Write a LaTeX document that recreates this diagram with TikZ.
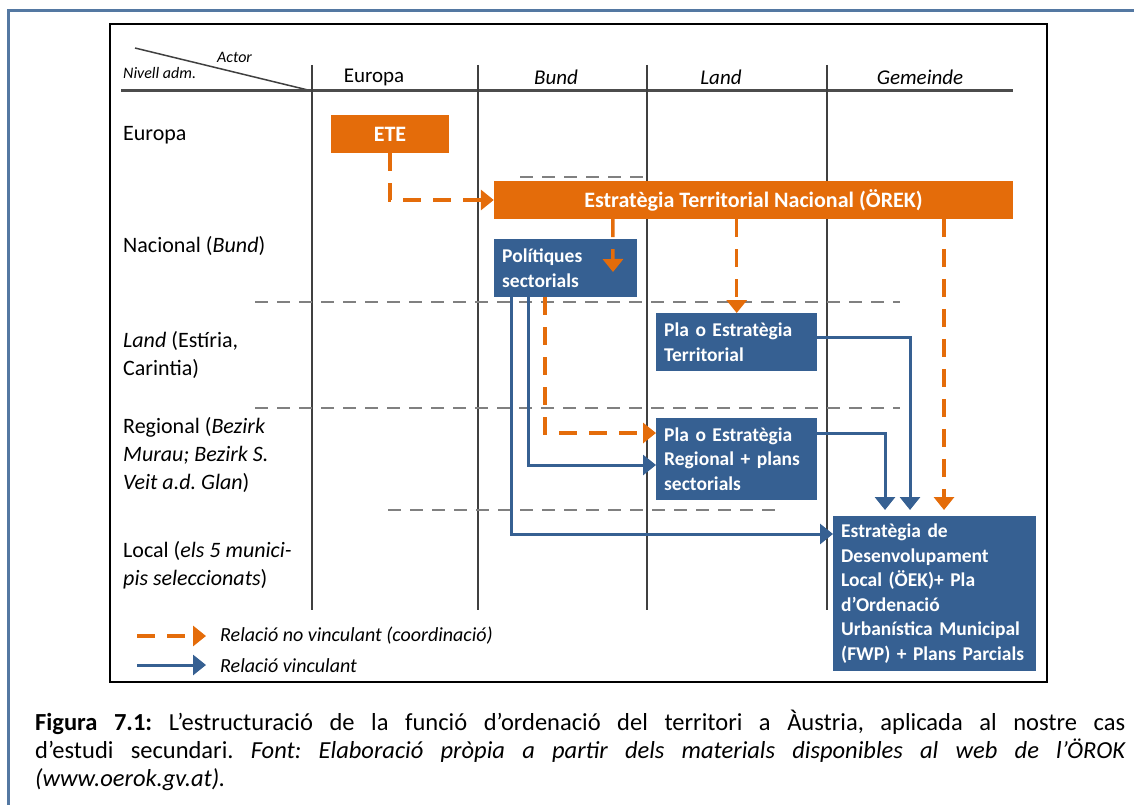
\documentclass[tikz,border=0pt]{standalone}
\usepackage{fontspec}
\setmainfont{Carlito}
\usepackage{tikz}
\usetikzlibrary{arrows.meta,calc}
\definecolor{orng}{RGB}{228,108,10}
\definecolor{blu}{RGB}{54,96,146}
\definecolor{grd}{RGB}{64,64,64}
\frenchspacing
\tikzset{
  orbox/.style={fill=orng,text=white,font=\fontsize{22}{26}\selectfont\bfseries,inner sep=0pt},
  blubox/.style={fill=blu,text=white,font=\fontsize{19.5}{24.5}\selectfont\bfseries,align=left,anchor=north west,inner xsep=8pt,inner ysep=0pt},
  rowlab/.style={anchor=west,align=left,inner sep=0pt,font=\fontsize{22}{28}\selectfont},
  collab/.style={font=\fontsize{21}{25}\selectfont\itshape},
  legtext/.style={anchor=west,inner sep=0pt,font=\fontsize{20}{22}\selectfont\itshape},
  nvinc/.style={orng,line width=3.5pt,dash pattern=on 18pt off 12pt,-{Triangle[length=13pt,width=20pt]}},
  vinc/.style={blu,line width=3pt,-{Triangle[length=13pt,width=20pt]}},
  grdash/.style={gray,line width=1.5pt,dash pattern=on 13pt off 9pt}
}
\begin{document}
\begin{tikzpicture}[x=1pt,y=-1pt]
            \useasboundingbox (0,0) rectangle (1134,805);
            % marc
            \draw[blu!85!white, line width=3pt] (8,805) -- (8,11) -- (1134,11);
            \draw[line width=2.5pt] (110,24) rectangle (1047,682);
            % capçalera
            \draw[grd, line width=1.5pt] (135,48) -- (312,91);
            \draw[gray!60!black, line width=3pt] (121,91) -- (1013,91);
            \node[anchor=west, inner sep=0pt, font=\fontsize{16}{18}\selectfont\itshape] (actor) at (217,57) {Actor};
            \node[anchor=west, inner sep=0pt, font=\fontsize{16}{18}\selectfont\itshape] (nivell) at (123,73) {Nivell adm.};
            \node[collab, font=\fontsize{21}{25}\selectfont] (cEur) at (374,77) {Europa};
            \node[collab] (cBund) at (556,77) {Bund};
            \node[collab] (cLand) at (721,77) {Land};
            \node[collab] (cGem) at (920,77) {Gemeinde};
            % columnes i nivells
            \foreach \x in {312,478,647,827}
                \draw[grd, line width=2pt] (\x,65) -- (\x,610);
            \draw[grdash] (520,177) -- (645,177);
            \draw[grdash] (255,302) -- (900,302);
            \draw[grdash] (255,408) -- (900,408);
            \draw[grdash] (388,510) -- (776,510);
            \node[rowlab] (rEur) at (123,135) {Europa};
            \node[rowlab] (rNac) at (123,246) {Nacional (\textit{Bund})};
            \node[rowlab] (rLand) at (123,355) {\textit{Land} (Estíria,\\Carintia)};
            \node[rowlab] (rReg) at (123,455) {Regional (\textit{Bezirk}\\\textit{Murau; Bezirk S.}\\\textit{Veit a.d. Glan})};
            \node[rowlab] (rLoc) at (123,565) {Local (\textit{els 5 munici-}\\\textit{pis seleccionats})};
            % instruments
            \node[orbox, minimum width=118pt, minimum height=38pt] (ete) at (390,134) {ETE};
            \node[orbox, minimum width=519pt, minimum height=38pt] (orek) at (753.5,200) {Estratègia Territorial Nacional (ÖREK)};
            \node[blubox, minimum width=143pt, minimum height=58pt, text width=127pt] (pol) at (494,239) {Polítiques\\sectorials};
            \node[blubox, minimum width=161pt, minimum height=58pt, text width=145pt] (ter) at (656,313) {Pla o Estratègia\\Territorial};
            \node[blubox, minimum width=161pt, minimum height=82pt, text width=145pt] (reg) at (656,418) {Pla o Estratègia\\Regional + plans\\sectorials};
            \node[blubox, minimum width=203pt, minimum height=155pt, text width=187pt] (loc) at (833,516) {Estratègia de\\Desenvolupament\\Local (ÖEK)+ Pla\\d’Ordenació\\Urbanística Municipal\\(FWP) + Plans Parcials};
            % relacions no vinculants
            \draw[nvinc] (ete.south) |- (orek.west);
            \draw[nvinc] ($(orek.south west)+(119,0)$) -- ($(pol.north west)+(119,33)$);
            \draw[nvinc] (orek.south -| ter.north) -- (ter.north);
            \coordinate (locO) at ($(loc.north west)+(111,-6)$);
            \draw[nvinc] (orek.south -| locO) -- (locO);
            \draw[nvinc] ($(pol.south west)+(51,0)$) |- ($(reg.north west)+(0,15)$);
            % relacions vinculants
            \draw[vinc] ($(pol.south west)+(17,0)$) |- ($(loc.north west)+(0,18)$);
            \draw[vinc] ($(pol.south west)+(34,0)$) |- ($(reg.north west)+(0,47)$);
            \draw[vinc] ($(ter.north east)+(0,24)$) -| ($(loc.north west)+(77,-6)$);
            \draw[vinc] ($(reg.north east)+(0,15)$) -| ($(loc.north west)+(52,-6)$);
            % llegenda
            \coordinate (la) at (137,636);
            \coordinate (lb) at (137,665);
            \node[legtext] (l1) at (220,636) {Relació no vinculant (coordinació)};
            \node[legtext] (l2) at (220,666) {Relació vinculant};
            \draw[nvinc] (la) -- ([xshift=-14pt]l1.west);
            \draw[vinc] (lb) -- ([xshift=-14pt]l2.west |- lb);
            % peu
            \node[anchor=north west, inner sep=0pt, text width=1090pt, align=justify, font=\fontsize{24.5}{28}\selectfont] (cap) at (35,710)
                {\textbf{Figura 7.1:} L’estructuració de la funció d’ordenació del territori a Àustria, aplicada al nostre cas\linebreak d’estudi secundari. \textit{Font: Elaboració pròpia a partir dels materials disponibles al web de l’ÖROK\linebreak (www.oerok.gv.at).}};
\end{tikzpicture}
\end{document}
